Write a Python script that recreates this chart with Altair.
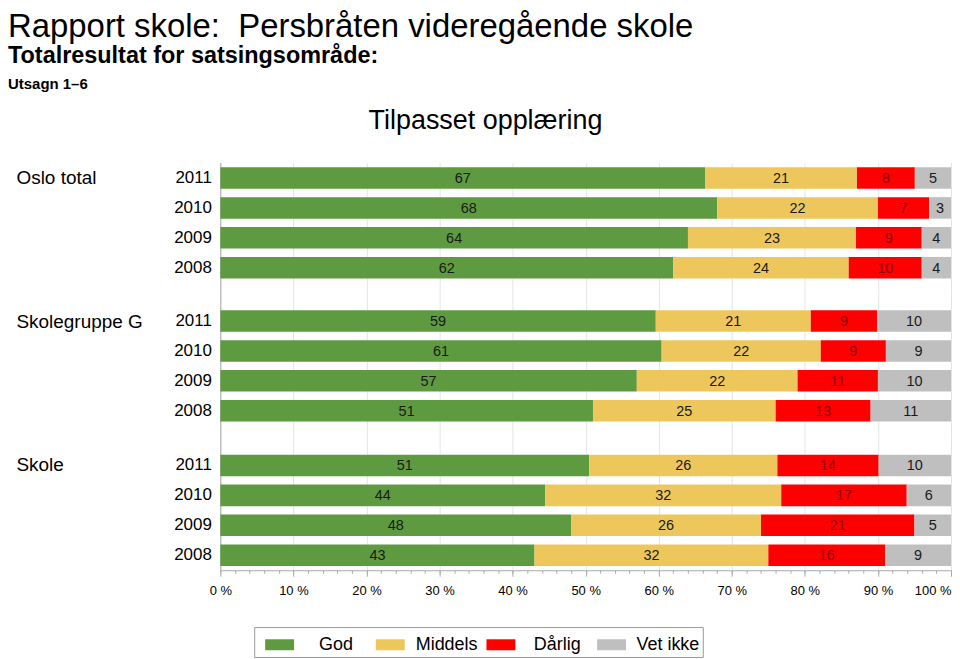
import altair as alt
import pandas as pd

groups = ["Oslo total", "Skolegruppe G", "Skole"]
years = ["2011", "2010", "2009", "2008"]
categories = ["God", "Middels", "Dårlig", "Vet ikke"]
colors = ["#5e9a40", "#edc75c", "#ff0000", "#bfbfbf"]

# values per group, rows in order 2011, 2010, 2009, 2008
god = [67, 68, 64, 62, 59, 61, 57, 51, 51, 44, 48, 43]
middels = [21, 22, 23, 24, 21, 22, 22, 25, 26, 32, 26, 32]
darlig = [8, 7, 9, 10, 9, 9, 11, 13, 14, 17, 21, 16]
vet_ikke = [5, 3, 4, 4, 10, 9, 10, 11, 10, 6, 5, 9]

x_ticks = [0, 0.1, 0.2, 0.3, 0.4, 0.5, 0.6, 0.7, 0.8, 0.9, 1.0]
x_minor = [i / 50 for i in range(51)]

title_main = "Rapport skole:\u00a0 Persbråten videregående skole"
title_sub = "Totalresultat for satsingsområde:"
title_utsagn = "Utsagn 1–6"
title_area = "Tilpasset opplæring"

rows = []
series = [god, middels, darlig, vet_ikke]
for gi, g in enumerate(groups):
    for yi, yr in enumerate(years):
        idx = gi * 4 + yi
        for ci, c in enumerate(categories):
            rows.append({"group": g, "year": yr, "cat": c, "ord": ci,
                         "value": series[ci][idx]})
df = pd.DataFrame(rows)

FONT = "Liberation Sans"
W = 733
NOVIEW = alt.ViewBackground(strokeWidth=0, strokeOpacity=0, fillOpacity=0)

legend = alt.Legend(
    title=None, orient="none", legendX=34, legendY=466,
    direction="horizontal", columns=4, gridAlign="all",
    symbolType="M-1,-0.38H1V0.38H-1Z", symbolSize=841,
    symbolStrokeWidth=0, labelAlign="center", labelOffset=42,
    labelFontSize=18, labelColor="black", labelFont=FONT,
    columnPadding=-5, padding=3, symbolOffset=8,
    strokeColor="#999999", fillColor="white",
)


def panel(g, height, pad_outer, align, title_y, last):
    base = (
        alt.Chart(df)
        .transform_filter(alt.datum.group == g)
        .transform_stack(stack="value", groupby=["year"], as_=["x0", "x1"],
                         sort=[alt.SortField("ord", order="ascending")],
                         offset="normalize")
        .transform_calculate(mid="(datum.x0 + datum.x1) / 2")
    )
    y = alt.Y(
        "year:N", sort=years,
        scale=alt.Scale(paddingInner=0.28, paddingOuter=pad_outer, align=align),
        axis=alt.Axis(
            title=g, titleAngle=0, titleAlign="left", titleBaseline="middle",
            titleX=-205, titleY=title_y, titleFontSize=19, titleFontWeight="normal",
            titleColor="black", titleFont=FONT, labelFontSize=17, labelColor="black",
            labelFont=FONT, labelPadding=9, ticks=False, domain=True,
            domainColor="#aaaaaa", grid=False,
        ),
    )
    xscale = alt.Scale(domain=[0, 1])
    if last:
        xaxis = alt.Axis(
            title=None, values=x_ticks, grid=True, gridColor="#e4e4e4",
            domain=True, domainColor="#aaaaaa", tickColor="#aaaaaa", tickSize=6,
            labelExpr="round(datum.value * 100) + ' %'",
            labelAlign={"condition": {"test": "datum.value >= 1", "value": "right"},
                        "value": "center"},
            labelFontSize=13, labelColor="black", labelFont=FONT, labelPadding=8,
            orient="bottom",
        )
        taxis = alt.Axis(title=None, values=x_minor, labels=False, domain=False,
                         grid=False, tickSize=3, tickColor="#aaaaaa", orient="bottom")
    else:
        xaxis = alt.Axis(title=None, values=x_ticks, grid=True, gridColor="#e4e4e4",
                         labels=False, ticks=False, domain=False)
        taxis = xaxis
    bars = base.mark_bar().encode(
        x=alt.X("x0:Q", scale=xscale, axis=xaxis),
        x2="x1:Q",
        y=y,
        color=alt.Color("cat:N", scale=alt.Scale(domain=categories, range=colors),
                        legend=legend),
    )
    text = base.mark_text(fontSize=14.5, font=FONT, dy=1).encode(
        x=alt.X("mid:Q", scale=xscale, axis=taxis),
        y=y,
        text="value:Q",
        color=alt.condition(alt.datum.cat == "Dårlig", alt.value("#8b0000"),
                            alt.value("#1a1a1a")),
    )
    ch = alt.layer(bars, text)
    if last:
        ch = ch.resolve_axis(x="independent")
    return ch.properties(width=W, height=height, view=NOVIEW)


def header_text(txt, x, y, size, weight="normal", align="left"):
    return alt.Chart(pd.DataFrame({"t": [txt]})).mark_text(
        fontSize=size, fontWeight=weight, font=FONT, align=align,
        baseline="alphabetic", color="black",
    ).encode(text="t:N", x=alt.value(x), y=alt.value(y))


p1 = panel(groups[0], 132, 0.34, 0.23, 15, False)
p1 = alt.layer(
    p1,
    header_text(title_main, -213, -126, 33),
    header_text(title_sub, -213, -100, 23.5, "bold"),
    header_text(title_utsagn, -213, -74, 15, "bold"),
    header_text(title_area, 266, -34, 27, "normal", "center"),
).properties(width=W, height=132, view=NOVIEW)
p2 = panel(groups[1], 144, 0.54, 0.5, 27, False)
p3 = panel(groups[2], 133, 0.355, 0.8, 27, True)

chart = (
    alt.vconcat(p1, p2, p3, spacing=0)
    .properties(padding={"top": 2, "left": 0, "right": 0, "bottom": 0})
    .configure_view(strokeWidth=0, strokeOpacity=0)
    .configure_axis(domain=False)
    .configure(font=FONT)
)

chart.save("out.html", embed_options={"renderer": "svg", "actions": False})
